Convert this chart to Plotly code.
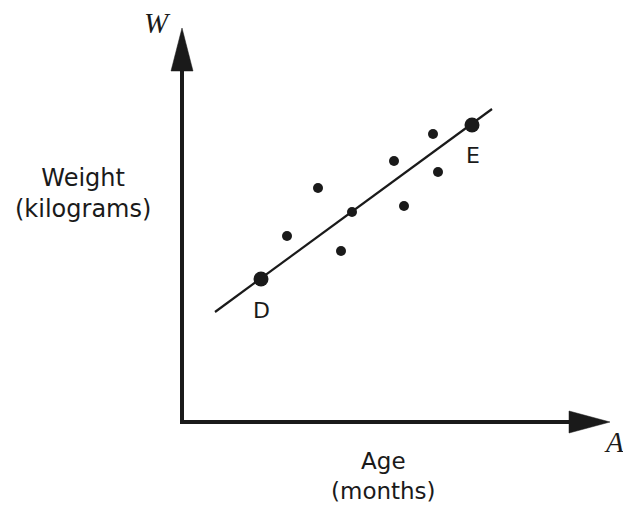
import plotly.graph_objects as go

# Data (arbitrary units: age along A, weight along W)
dot_age = [5.25, 6.8, 7.95, 8.5, 10.6, 11.1, 12.55, 12.8]
dot_weight = [9.3, 11.7, 8.55, 10.5, 13.05, 10.8, 14.4, 12.5]
key_labels = ["D", "E"]
key_age = [3.95, 14.5]
key_weight = [7.15, 14.85]
fit_age = [1.65, 15.5]
fit_weight = [5.5, 15.65]

# Axes geometry (data units)
w_axis_top = 17.55
w_arrow_tip = 19.7
a_axis_end = 19.35
a_arrow_tip = 21.4
head_half = 0.55

INK = "#1a1a1a"
SANS = "DejaVu Sans"
SERIF = "Liberation Serif"

fig = go.Figure()

# axes as one polyline (vertical then horizontal)
fig.add_trace(go.Scatter(x=[0, 0, a_axis_end], y=[w_axis_top, 0, 0], mode="lines",
                         line=dict(color=INK, width=4), hoverinfo="skip"))
# arrowheads
fig.add_trace(go.Scatter(x=[-head_half, 0, head_half, -head_half],
                         y=[w_axis_top, w_arrow_tip, w_axis_top, w_axis_top],
                         mode="lines", fill="toself", fillcolor=INK,
                         line=dict(color=INK, width=0.5), hoverinfo="skip"))
fig.add_trace(go.Scatter(x=[a_axis_end, a_arrow_tip, a_axis_end, a_axis_end],
                         y=[-head_half, 0, head_half, -head_half],
                         mode="lines", fill="toself", fillcolor=INK,
                         line=dict(color=INK, width=0.5), hoverinfo="skip"))
# line of best fit
fig.add_trace(go.Scatter(x=fit_age, y=fit_weight, mode="lines",
                         line=dict(color=INK, width=2.2), hoverinfo="skip"))
# data dots
fig.add_trace(go.Scatter(x=dot_age, y=dot_weight, mode="markers",
                         marker=dict(color=INK, size=10, line=dict(width=0))))
# D and E points
fig.add_trace(go.Scatter(x=key_age, y=key_weight, mode="markers",
                         marker=dict(color=INK, size=15, line=dict(width=0))))

anns = [
    dict(x=-4.95, y=11.45, text="Weight<br>(kilograms)", font=dict(family=SANS, size=24, color=INK)),
    dict(x=10.05, y=-2.72, text="Age<br>(months)", font=dict(family=SANS, size=23, color=INK), borderpad=0),
    dict(x=-1.25, y=19.95, text="<i>W</i>", font=dict(family=SERIF, size=29, color=INK)),
    dict(x=21.6, y=-1.0, text="<i>A</i>", font=dict(family=SERIF, size=29, color=INK)),
    dict(x=key_age[0], y=key_weight[0] - 1.55, text=key_labels[0], font=dict(family=SANS, size=22, color=INK)),
    dict(x=key_age[1] + 0.05, y=key_weight[1] - 1.5, text=key_labels[1], font=dict(family=SANS, size=22, color=INK)),
]
for a in anns:
    a.update(xref="x", yref="y", showarrow=False, xanchor="center", yanchor="middle")

fig.update_layout(
    width=623, height=506,
    margin=dict(l=0, r=0, t=0, b=0),
    paper_bgcolor="white", plot_bgcolor="white",
    showlegend=False,
    xaxis=dict(range=[-9.1, 22.05], visible=False, fixedrange=True),
    yaxis=dict(range=[-4.2, 21.1], visible=False, fixedrange=True),
    annotations=anns,
)

fig.write_html("out.html", config={"displayModeBar": False},
               post_script="document.body.style.margin='0px';")
